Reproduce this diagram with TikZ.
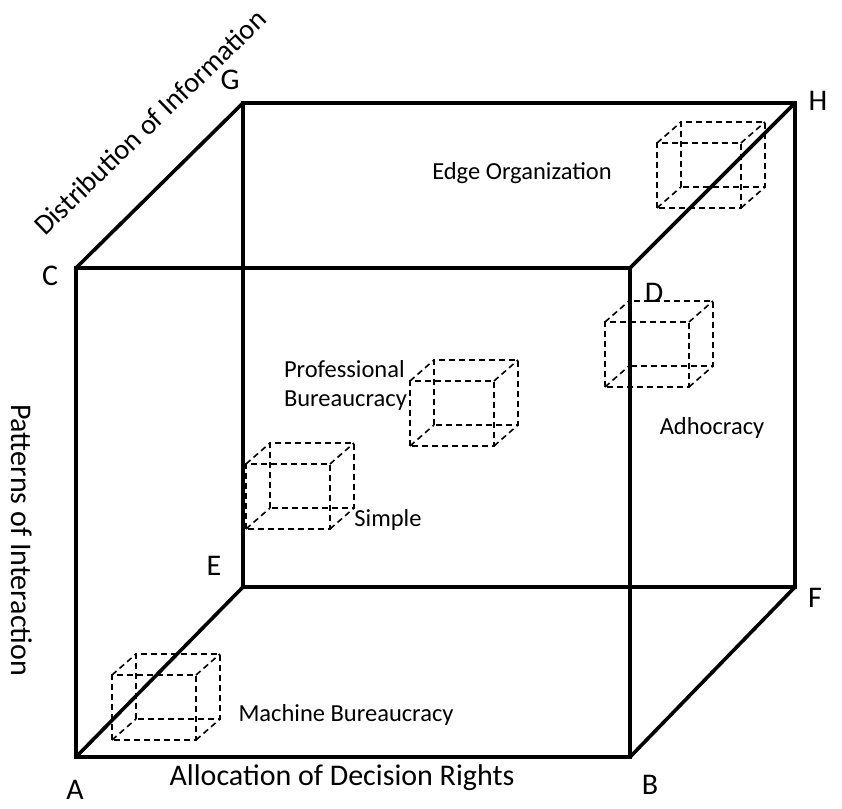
\documentclass[tikz,border=0pt]{standalone}
\usepackage{fontspec}
\setmainfont{Carlito}
\usetikzlibrary{positioning}

\tikzset{
  cubeline/.style={line width=3.6pt, line join=miter},
  dashline/.style={line width=1.6pt, dash pattern=on 6pt off 4pt},
  corner/.style={font=\fontsize{30}{33}\selectfont, inner sep=0pt},
  axis/.style={font=\fontsize{30}{33}\selectfont, inner sep=0pt},
  kind/.style={font=\fontsize{24.5}{29}\selectfont, inner sep=0pt},
  pics/smallcube/.style={code={
    \draw[dashline] (0,0) rectangle (84,65);
    \draw[dashline] (24,21) rectangle (108,86);
    \draw[dashline] (0,0) -- (24,21);
    \draw[dashline] (84,0) -- (108,21);
    \draw[dashline] (0,65) -- (24,86);
    \draw[dashline] (84,65) -- (108,86);
  }}
}

\begin{document}
\begin{tikzpicture}[x=1pt, y=1pt]
 \useasboundingbox (0,0) rectangle (842,808);

 % corners of the big cube
 \coordinate (A) at (76,51);
 \coordinate (B) at (630,51);
 \coordinate (C) at (76,540);
 \coordinate (D) at (630,540);
 \coordinate (E) at (243,221);
 \coordinate (F) at (795,221);
 \coordinate (G) at (243,705);
 \coordinate (H) at (795,705);

 \draw[cubeline] (A) -- (B) -- (D) -- (C) -- cycle;
 \draw[cubeline] (E) -- (F) -- (H) -- (G) -- cycle;
 \draw[cubeline] (A) -- (E);
 \draw[cubeline] (B) -- (F);
 \draw[cubeline] (C) -- (G);
 \draw[cubeline] (D) -- (H);

 % corner labels
 \node[corner] (a) at (75,18) {A};
 \node[corner] (b) at (650,23) {B};
 \node[corner] (c) at (50,532) {C};
 \node[corner] (d) at (654,515) {D};
 \node[corner] (e) at (214,242) {E};
 \node[corner] (f) at (815,210) {F};
 \node[corner] (g) at (230,728) {G};
 \node[corner] (h) at (818,707) {H};

 % axes
 \node[axis] (alloc) at (342,30) {Allocation of Decision Rights};
 \node[axis, rotate=-90] (pattern) at (22,268) {Patterns of Interaction};
 \node[axis, rotate=44, font=\fontsize{28.5}{32}\selectfont] (distrib) at (150,686) {Distribution of Information};

 % organisation types
 \pic at (657,600) {smallcube};
 \pic at (605,421) {smallcube};
 \pic at (410,362) {smallcube};
 \pic at (246,279) {smallcube};
 \pic at (112,68) {smallcube};

 \node[kind] (edge) at (522,635) {Edge Organization};
 \node[kind] (adhoc) at (712,380) {Adhocracy};
 \node[kind, align=left, anchor=east] (prof) at (407,423) {Professional\\Bureaucracy};
 \node[kind] (simple) at (388,288) {Simple};
 \node[kind] (machine) at (346,93) {Machine Bureaucracy};
\end{tikzpicture}
\end{document}
